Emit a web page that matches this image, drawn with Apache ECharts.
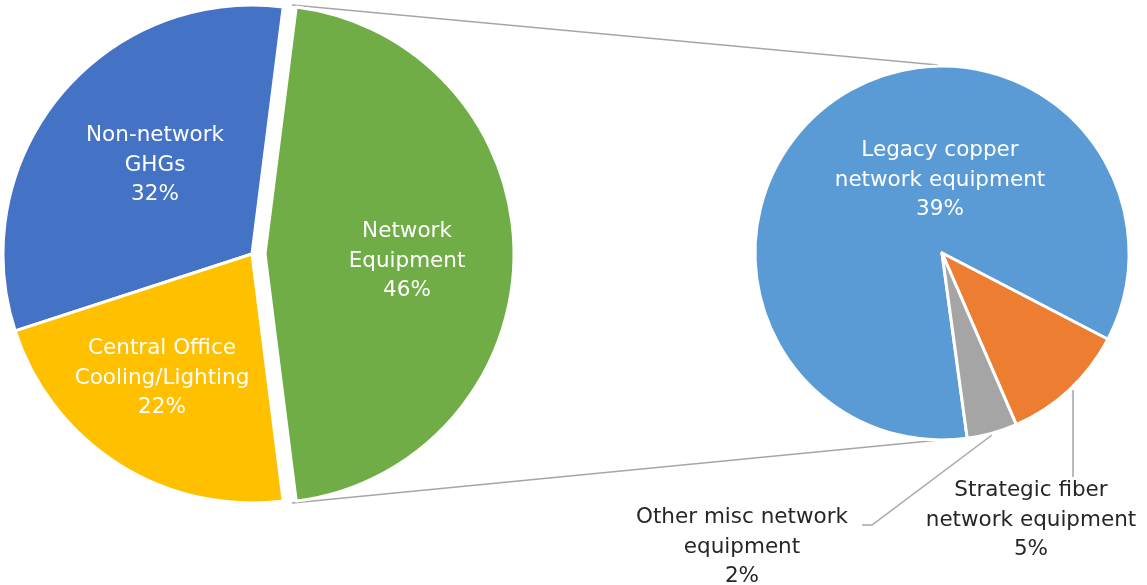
<!DOCTYPE html>
<html>
<head>
<meta charset="utf-8">
<script src="https://cdn.jsdelivr.net/npm/echarts@6/dist/echarts.min.js"></script>
<style>
html,body{margin:0;padding:0;background:#fff;}
#chart{width:1147px;height:585px;}
</style>
</head>
<body>
<div id="chart"></div>
<script>
// ---- data ----
const mainCategories = ['Non-network\nGHGs', 'Central Office\nCooling/Lighting', 'Network\nEquipment'];
const mainValues = [32, 22, 46];
const subCategories = ['Legacy copper\nnetwork equipment', 'Strategic fiber\nnetwork equipment', 'Other misc network\nequipment'];
const subValues = [39, 5, 2];

// ---- styles / layout ----
const mainColors = ['#4472C4', '#FFC000', '#70AD47'];
const subColors = ['#5B9BD5', '#ED7D31', '#A5A5A5'];
const FONT = 'DejaVu Sans';
const FS = 21.5;
const L = {cx: 252, cy: 254, r: 249, explode: 13};
const R = {cx: 942, cy: 253, r: 187};
const SPLIT = 2; // index of the slice broken out into the secondary pie

const mainTotal = mainValues.reduce((a, b) => a + b, 0);
const splitFrac = mainValues[SPLIT] / mainTotal;
const mainStart = splitFrac * 180; // split slice centred at 3 o'clock (CCW drawing)
const subStart = -82.25;

const mainLabelPos = [[155, 165], [162, 378], [407, 261]];
const subLabelPos = [[940, 180], [1031, 520], [742, 547]];
const subLinePts = [null, [[1073, 390], [1073, 477], [1073, 477]], [[992, 435], [872, 525], [862, 525]]];

const chart = echarts.init(document.getElementById('chart'), null, {renderer: 'canvas'});

// build main-pie data: one layer for the seated slices, one for the exploded slice
function mainData(exploded) {
  return mainCategories.map((n, i) => {
    const visible = (i === SPLIT) === exploded;
    return {
      name: n, value: mainValues[i],
      itemStyle: visible ? {color: mainColors[i], borderColor: '#fff', borderWidth: 3}
                         : {color: 'rgba(0,0,0,0)', borderWidth: 0},
      label: {show: visible}
    };
  });
}
const subData = subCategories.map((n, i) => ({
  name: n, value: subValues[i],
  itemStyle: {color: subColors[i]},
  label: i === 0 ? {color: '#fff'} : {color: '#262626'}
}));

// connector lines between exploded slice and secondary pie
const th = (90 - mainStart) * Math.PI / 180;
const gcx = L.cx + L.explode;
const topPt = [gcx + (L.r - 1) * Math.sin(th), L.cy - (L.r - 1) * Math.cos(th)];
const botPt = [gcx + (L.r - 1) * Math.sin(th), L.cy + (L.r - 1) * Math.cos(th)];

const mainLabel = {
  show: true, position: 'inside', color: '#fff',
  fontFamily: FONT, fontSize: FS, lineHeight: 29.5, overflow: 'none',
  formatter: p => p.name + '\n' + p.value + '%'
};
const mainLayout = p => ({x: mainLabelPos[p.dataIndex][0], y: mainLabelPos[p.dataIndex][1], align: 'center', verticalAlign: 'middle', hideOverlap: false});

chart.setOption({
  animation: false,
  backgroundColor: '#fff',
  graphic: [
    {type: 'line', z: 0, shape: {x1: topPt[0] - 4, y1: topPt[1] - 3, x2: R.cx - 4, y2: R.cy - R.r - 1}, style: {stroke: '#A6A6A6', lineWidth: 1.5}},
    {type: 'line', z: 0, shape: {x1: botPt[0] - 4, y1: botPt[1] + 3, x2: R.cx + 8, y2: R.cy + R.r - 1}, style: {stroke: '#A6A6A6', lineWidth: 1.5}}
  ],
  series: [
    {
      type: 'pie', center: [L.cx, L.cy], radius: [0, L.r],
      startAngle: mainStart, clockwise: false,
      avoidLabelOverlap: false, emphasis: {disabled: true},
      label: mainLabel, labelLine: {show: false}, labelLayout: mainLayout,
      data: mainData(false)
    },
    {
      type: 'pie', center: [L.cx + L.explode, L.cy], radius: [0, L.r],
      startAngle: mainStart, clockwise: false,
      avoidLabelOverlap: false, emphasis: {disabled: true},
      label: mainLabel, labelLine: {show: false}, labelLayout: mainLayout,
      data: mainData(true)
    },
    {
      type: 'pie',
      center: [R.cx, R.cy],
      radius: [0, R.r],
      startAngle: subStart,
      clockwise: true,
      avoidLabelOverlap: false,
      minShowLabelAngle: 0,
      emphasis: {disabled: true},
      itemStyle: {borderColor: '#fff', borderWidth: 3},
      label: {
        show: true, position: 'outside', overflow: 'none', width: 400,
        fontFamily: FONT, fontSize: FS, lineHeight: 29.5,
        formatter: p => p.name + '\n' + p.value + '%'
      },
      labelLine: {show: true, length: 10, length2: 10, lineStyle: {color: '#A6A6A6', width: 1.5}},
      labelLayout: p => {
        const i = p.dataIndex;
        const o = {x: subLabelPos[i][0], y: subLabelPos[i][1], align: 'center', verticalAlign: 'middle', hideOverlap: false};
        if (subLinePts[i]) o.labelLinePoints = subLinePts[i];
        return o;
      },
      data: subData
    }
  ]
});
</script>
</body>
</html>
